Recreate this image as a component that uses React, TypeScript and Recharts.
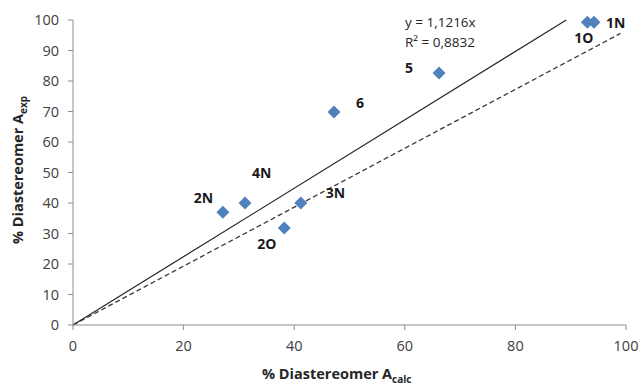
import { ScatterChart, Scatter, XAxis, YAxis, ReferenceLine, LabelList } from 'recharts';

const names = ['2N', '4N', '2O', '3N', '6', '5', '1O', '1N'];
const calcValues = [27.1, 31.1, 38.2, 41.2, 47.2, 66.2, 93.0, 94.2];
const expValues = [37.0, 40.0, 31.8, 40.0, 69.8, 82.6, 99.3, 99.3];

// trend line y = 1,1216x and the dashed reference line
const trendStart = [0, 0];
const trendEnd = [89.2, 100];
const dashStart = [0, 0];
const dashEnd = [99, 95.6];

const xTicks = [0, 20, 40, 60, 80, 100];
const yTicks = [0, 10, 20, 30, 40, 50, 60, 70, 80, 90, 100];

const equationLines = ['y = 1,1216x', 'R² = 0,8832'];

const points = names.map((name, i) => ({ name, x: calcValues[i], y: expValues[i] }));

// where each point label sits relative to its marker (px)
const labelOffset: Record<string, [number, number]> = {
  '2N': [-29, -14],
  '4N': [7, -30],
  '3N': [25, -10],
  '2O': [-27, 16],
  '6': [22, -9],
  '5': [-34, -5],
  '1O': [-13, 16],
  '1N': [12, 1],
};

const FONT = '"Open Sans", sans-serif';
const AXIS_GREY = '#8c8c8c';
const TEXT = '#404040';

const Diamond = (props: any) => {
  const { cx, cy } = props;
  const r = 6.5;
  return (
    <polygon
      points={`${cx},${cy - r} ${cx + r},${cy} ${cx},${cy + r} ${cx - r},${cy}`}
      fill="#4f81bd"
    />
  );
};

const PointLabel = (props: any) => {
  const { x, y, width, height, value } = props;
  const off = labelOffset[value] || [8, 0];
  const cx = x + (width || 0) / 2;
  const cy = y + (height || 0) / 2;
  return (
    <text
      x={cx + off[0]}
      y={cy + off[1]}
      dy="0.35em"
      fontFamily={FONT}
      fontSize={14}
      fontWeight="bold"
      fill="#1a1a1a"
    >
      {value}
    </text>
  );
};

export default function App() {
  return (
    <div style={{ position: 'absolute', left: 0, top: 0, background: '#fff' }}>
      <ScatterChart
        width={639}
        height={385}
        margin={{ top: 20, right: 13, bottom: 0, left: 0 }}
      >
        <XAxis
          type="number"
          dataKey="x"
          domain={[0, 100]}
          ticks={xTicks}
          height={60}
          stroke={AXIS_GREY}
          tickSize={5}
          tickMargin={11}
          tick={{ fill: TEXT, fontSize: 14.5, fontFamily: FONT }}
        />
        <YAxis
          type="number"
          dataKey="y"
          domain={[0, 100]}
          ticks={yTicks}
          width={73}
          stroke={AXIS_GREY}
          tickSize={5}
          tickMargin={9}
          tick={{ fill: TEXT, fontSize: 14.5, fontFamily: FONT }}
        />
        <ReferenceLine
          segment={[
            { x: dashStart[0], y: dashStart[1] },
            { x: dashEnd[0], y: dashEnd[1] },
          ]}
          stroke="#3a3a3a"
          strokeWidth={1.3}
          strokeDasharray="5 3"
          ifOverflow="visible"
        />
        <ReferenceLine
          segment={[
            { x: trendStart[0], y: trendStart[1] },
            { x: trendEnd[0], y: trendEnd[1] },
          ]}
          stroke="#262626"
          strokeWidth={1.2}
          ifOverflow="visible"
        />
        <Scatter data={points} shape={<Diamond />} isAnimationActive={false}>
          <LabelList dataKey="name" content={<PointLabel />} />
        </Scatter>
      </ScatterChart>
      <svg
        width={639}
        height={385}
        style={{ position: 'absolute', left: 0, top: 0, pointerEvents: 'none' }}
      >
        {equationLines.map((line, i) => (
          <text
            key={line}
            x={405}
            y={22 + i * 20}
            dy="0.35em"
            fontFamily={FONT}
            fontSize={13.5}
            fill="#262626"
          >
            {line}
          </text>
        ))}
        <text x={262} y={379} fontFamily={FONT} fontSize={14.5} fontWeight="bold" fill="#262626">
          % Diastereomer A
          <tspan fontSize={10} dy={4}>calc</tspan>
        </text>
        <text
          transform="translate(23, 170) rotate(-90)"
          textAnchor="middle"
          fontFamily={FONT}
          fontSize={14.5}
          fontWeight="bold"
          fill="#262626"
        >
          % Diastereomer A
          <tspan fontSize={10} dy={4}>exp</tspan>
        </text>
      </svg>
    </div>
  );
}
